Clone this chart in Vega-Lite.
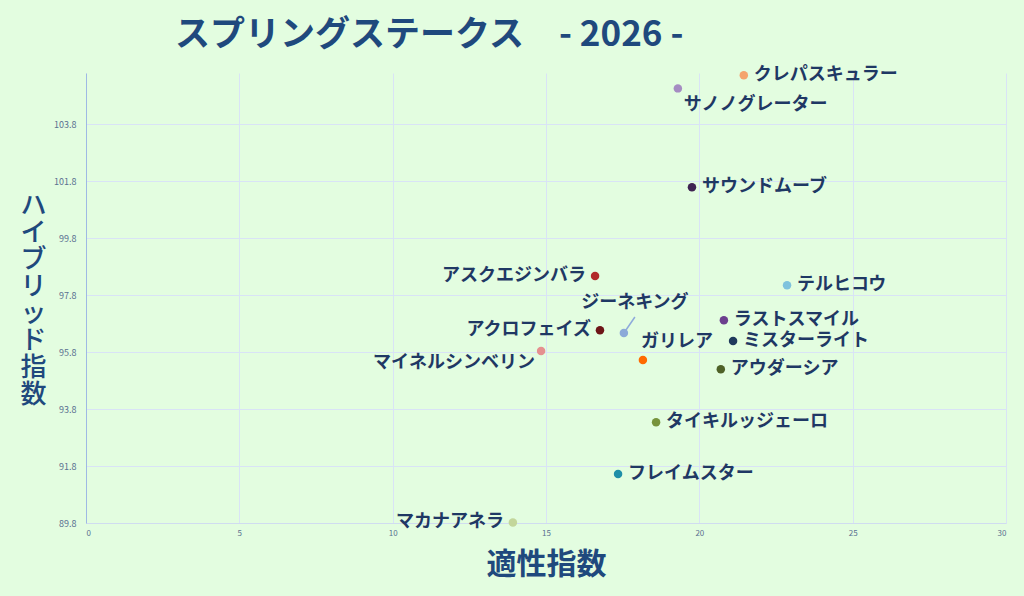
{
  "$schema": "https://vega.github.io/schema/vega-lite/v6.json",
  "description": "スプリングステークス 2026 - 適性指数 x ハイブリッド指数",
  "autosize": {"type": "none"},
  "width": 920,
  "height": 450,
  "padding": {"left": 86, "top": 73, "right": 18, "bottom": 73},
  "background": "#e3fde0",
  "title": {
    "text": "スプリングステークス　- 2026 -",
    "frame": "group",
    "anchor": "start",
    "dx": 89,
    "offset": 27,
    "dy": 42,
    "baseline": "alphabetic",
    "font": "Noto Sans CJK JP",
    "fontSize": 35,
    "fontWeight": "bold",
    "color": "#1f497d"
  },
  "config": {
    "view": {"stroke": null},
    "axis": {
      "labelFont": "Noto Sans CJK JP",
      "labelColor": "#5a7090",
      "labelFontSize": 9,
      "ticks": false,
      "gridColor": "#d9e3f6",
      "gridWidth": 1,
      "titleFont": "Noto Sans CJK JP",
      "titleColor": "#1f497d"
    }
  },
  "data": {
    "values": [
      {"name": "クレパスキュラー", "x": 21.45, "y": 105.52},
      {"name": "サノノグレーター", "x": 19.30, "y": 105.06},
      {"name": "サウンドムーブ", "x": 19.76, "y": 101.59},
      {"name": "アスクエジンバラ", "x": 16.60, "y": 98.47},
      {"name": "テルヒコウ", "x": 22.86, "y": 98.15},
      {"name": "ジーネキング", "x": 17.54, "y": 96.47},
      {"name": "アクロフェイズ", "x": 16.76, "y": 96.57},
      {"name": "ラストスマイル", "x": 20.80, "y": 96.92},
      {"name": "ミスターライト", "x": 21.10, "y": 96.19},
      {"name": "マイネルシンベリン", "x": 14.84, "y": 95.84},
      {"name": "ガリレア", "x": 18.16, "y": 95.52},
      {"name": "アウダーシア", "x": 20.70, "y": 95.20},
      {"name": "タイキルッジェーロ", "x": 18.59, "y": 93.34},
      {"name": "フレイムスター", "x": 17.35, "y": 91.52},
      {"name": "マカナアネラ", "x": 13.92, "y": 89.82}
    ]
  },
  "encoding": {
    "x": {
      "field": "x",
      "type": "quantitative",
      "scale": {"domain": [0, 30], "nice": false, "zero": false},
      "axis": {
        "values": [0, 5, 10, 15, 20, 25, 30],
        "labelPadding": 6,
        "labelFontSize": 8,
        "domainColor": "#d0dcf0",
        "title": "適性指数",
        "titleFontSize": 30,
        "titleFontWeight": "bold",
        "titleBaseline": "middle",
        "titleY": 41
      }
    },
    "y": {
      "field": "y",
      "type": "quantitative",
      "scale": {"domain": [89.8, 105.6], "nice": false, "zero": false},
      "axis": {
        "values": [89.8, 91.8, 93.8, 95.8, 97.8, 99.8, 101.8, 103.8],
        "format": ".1f",
        "labelPadding": 10,
        "domainColor": "#9fb9e4",
        "title": ["ハ", "イ", "ブ", "リ", "ッ", "ド", "指", "数"],
        "titleAngle": 0,
        "titleFontSize": 26,
        "titleFontWeight": 500,
        "titleLineHeight": 27,
        "titleAlign": "center",
        "titleBaseline": "middle",
        "titleX": -53,
        "titleY": 132
      }
    }
  },
  "layer": [
    {
      "transform": [{"filter": {"field": "name", "equal": "ジーネキング"}}],
      "mark": {"type": "rule", "color": "#8eaadb", "strokeWidth": 1.5, "x2Offset": 11, "y2Offset": -16},
      "encoding": {
        "x2": {"field": "x"},
        "y2": {"field": "y"}
      }
    },
    {
      "mark": {"type": "circle", "size": 72, "opacity": 1},
      "encoding": {
        "color": {
          "field": "name",
          "type": "nominal",
          "legend": null,
          "scale": {
            "domain": ["クレパスキュラー", "サノノグレーター", "サウンドムーブ", "アスクエジンバラ", "テルヒコウ", "ジーネキング", "アクロフェイズ", "ラストスマイル", "ミスターライト", "マイネルシンベリン", "ガリレア", "アウダーシア", "タイキルッジェーロ", "フレイムスター", "マカナアネラ"],
            "range": ["#f4a46c", "#a58cc2", "#3f2352", "#b22a2a", "#7fc3dd", "#8caad8", "#6e1518", "#6c3f8e", "#1f3a5c", "#e5908f", "#ff6a00", "#4f6228", "#77933c", "#1e8fa8", "#c3d69b"]
          }
        }
      }
    },
    {
      "transform": [{"filter": {"field": "name", "oneOf": ["クレパスキュラー", "サウンドムーブ", "テルヒコウ", "ラストスマイル", "ミスターライト", "アウダーシア", "タイキルッジェーロ", "フレイムスター"]}}],
      "mark": {"type": "text", "align": "left", "baseline": "middle", "dx": 10, "font": "Noto Sans CJK JP", "fontSize": 18, "fontWeight": "bold", "color": "#1f3864"},
      "encoding": {"text": {"field": "name"}}
    },
    {
      "transform": [{"filter": {"field": "name", "oneOf": ["アスクエジンバラ", "アクロフェイズ", "マカナアネラ"]}}],
      "mark": {"type": "text", "align": "right", "baseline": "middle", "dx": -9, "font": "Noto Sans CJK JP", "fontSize": 18, "fontWeight": "bold", "color": "#1f3864"},
      "encoding": {"text": {"field": "name"}}
    },
    {
      "transform": [{"filter": {"field": "name", "equal": "サノノグレーター"}}],
      "mark": {"type": "text", "align": "left", "baseline": "middle", "dx": 6, "dy": 17, "font": "Noto Sans CJK JP", "fontSize": 18, "fontWeight": "bold", "color": "#1f3864"},
      "encoding": {"text": {"field": "name"}}
    },
    {
      "transform": [{"filter": {"field": "name", "equal": "マイネルシンベリン"}}],
      "mark": {"type": "text", "align": "right", "baseline": "middle", "dx": -6, "dy": 12, "font": "Noto Sans CJK JP", "fontSize": 18, "fontWeight": "bold", "color": "#1f3864"},
      "encoding": {"text": {"field": "name"}}
    },
    {
      "transform": [{"filter": {"field": "name", "equal": "ジーネキング"}}],
      "mark": {"type": "text", "align": "center", "baseline": "middle", "dx": 11, "dy": -30, "font": "Noto Sans CJK JP", "fontSize": 18, "fontWeight": "bold", "color": "#1f3864"},
      "encoding": {"text": {"field": "name"}}
    },
    {
      "transform": [{"filter": {"field": "name", "equal": "ガリレア"}}],
      "mark": {"type": "text", "align": "left", "baseline": "middle", "dx": -2, "dy": -18, "font": "Noto Sans CJK JP", "fontSize": 18, "fontWeight": "bold", "color": "#1f3864"},
      "encoding": {"text": {"field": "name"}}
    }
  ]
}
